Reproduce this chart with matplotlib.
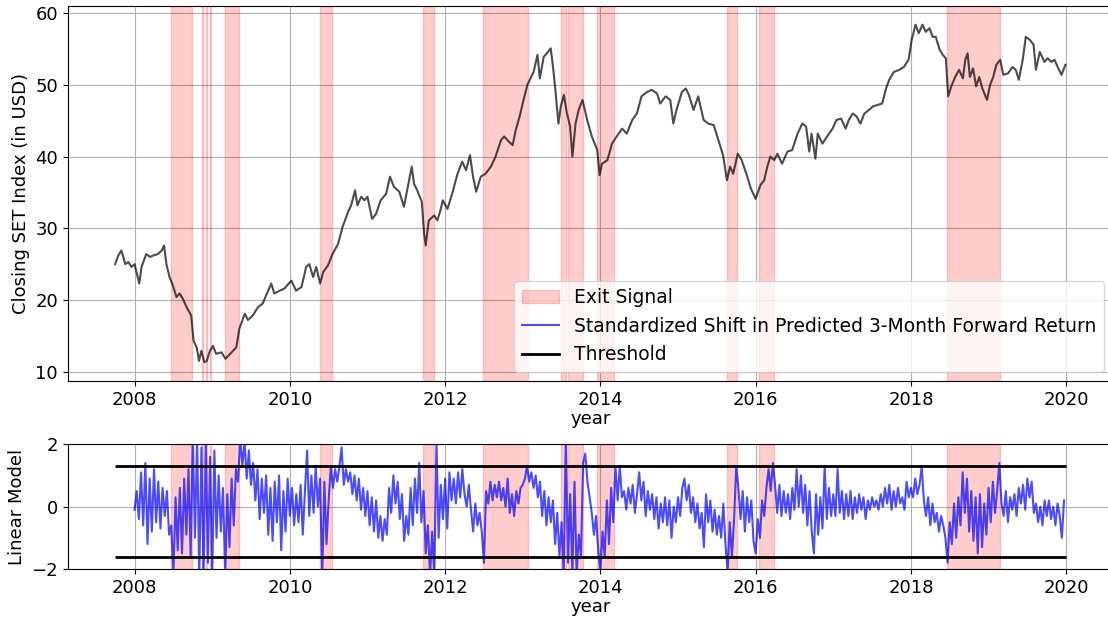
import numpy as np
import matplotlib
matplotlib.use("Agg")
import matplotlib.pyplot as plt
from matplotlib.patches import Patch
from matplotlib.lines import Line2D

plt.rcParams['font.size'] = 13

# Closing SET index (in USD), time in decimal years
price_t = [2007.75, 2007.79, 2007.83, 2007.88, 2007.92, 2007.96, 2008.0, 2008.06, 2008.09, 2008.15,
           2008.2, 2008.24, 2008.3, 2008.35, 2008.38, 2008.41, 2008.45, 2008.5, 2008.54, 2008.58,
           2008.62, 2008.67, 2008.73, 2008.76, 2008.8, 2008.83, 2008.86, 2008.9, 2008.93, 2008.97,
           2009.01, 2009.05, 2009.12, 2009.17, 2009.25, 2009.31, 2009.35, 2009.42, 2009.46, 2009.52,
           2009.59, 2009.65, 2009.72, 2009.76, 2009.8, 2009.87, 2009.93, 2010.02, 2010.08, 2010.15,
           2010.21, 2010.25, 2010.3, 2010.34, 2010.39, 2010.43, 2010.49, 2010.55, 2010.62, 2010.68,
           2010.75, 2010.79, 2010.84, 2010.87, 2010.92, 2010.96, 2011.0, 2011.06, 2011.11, 2011.17,
           2011.24, 2011.29, 2011.34, 2011.41, 2011.47, 2011.52, 2011.57, 2011.6, 2011.64, 2011.7,
           2011.73, 2011.75, 2011.79, 2011.86, 2011.9, 2011.94, 2011.97, 2012.03, 2012.09, 2012.16,
           2012.22, 2012.27, 2012.32, 2012.36, 2012.4, 2012.46, 2012.52, 2012.59, 2012.65, 2012.72,
           2012.76, 2012.82, 2012.87, 2012.91, 2012.96, 2013.01, 2013.06, 2013.1, 2013.14, 2013.19,
           2013.22, 2013.27, 2013.31, 2013.36, 2013.39, 2013.42, 2013.46, 2013.49, 2013.53, 2013.57,
           2013.61, 2013.64, 2013.68, 2013.72, 2013.77, 2013.83, 2013.89, 2013.96, 2013.99, 2014.02,
           2014.09, 2014.15, 2014.21, 2014.28, 2014.34, 2014.41, 2014.47, 2014.53, 2014.6, 2014.66,
           2014.73, 2014.77, 2014.84, 2014.9, 2014.94, 2014.98, 2015.05, 2015.1, 2015.14, 2015.2,
           2015.26, 2015.33, 2015.39, 2015.46, 2015.52, 2015.58, 2015.63, 2015.67, 2015.71, 2015.77,
           2015.82, 2015.88, 2015.94, 2016.0, 2016.06, 2016.11, 2016.15, 2016.19, 2016.24, 2016.28,
           2016.34, 2016.41, 2016.47, 2016.54, 2016.6, 2016.65, 2016.69, 2016.72, 2016.77, 2016.8,
           2016.86, 2016.92, 2016.99, 2017.04, 2017.1, 2017.16, 2017.2, 2017.25, 2017.3, 2017.35,
           2017.4, 2017.46, 2017.51, 2017.57, 2017.63, 2017.68, 2017.72, 2017.78, 2017.85, 2017.91,
           2017.97, 2018.01, 2018.06, 2018.1, 2018.15, 2018.19, 2018.24, 2018.28, 2018.32, 2018.37,
           2018.41, 2018.45, 2018.48, 2018.52, 2018.57, 2018.62, 2018.67, 2018.7, 2018.73, 2018.76,
           2018.8, 2018.84, 2018.88, 2018.92, 2018.98, 2019.02, 2019.06, 2019.1, 2019.15, 2019.19,
           2019.25, 2019.31, 2019.35, 2019.39, 2019.44, 2019.48, 2019.53, 2019.58, 2019.61, 2019.66,
           2019.72, 2019.76, 2019.81, 2019.85, 2019.89, 2019.94, 2019.99]
price_v = [25.0, 26.2, 26.9, 25.0, 25.3, 24.6, 25.0, 22.3, 24.6, 26.4,
           26.0, 26.2, 26.4, 26.9, 27.6, 25.0, 23.2, 21.8, 20.4, 20.9,
           20.2, 19.0, 17.8, 14.3, 13.4, 11.5, 12.9, 11.3, 11.5, 12.9,
           13.6, 12.5, 12.7, 11.8, 12.7, 13.4, 16.0, 18.1, 17.2, 17.8,
           19.0, 19.5, 21.3, 22.3, 20.9, 21.3, 21.6, 22.7, 21.3, 21.8,
           24.6, 25.0, 23.2, 24.6, 22.3, 23.9, 24.8, 26.4, 27.8, 30.2,
           32.3, 33.2, 35.3, 33.2, 34.4, 33.9, 34.4, 31.3, 32.0, 33.9,
           34.8, 37.2, 35.8, 35.1, 33.0, 35.8, 38.6, 36.2, 35.3, 33.7,
           29.2, 27.6, 31.1, 31.8, 31.1, 32.5, 33.9, 32.7, 34.8, 37.6,
           39.3, 38.1, 40.2, 37.2, 35.1, 37.2, 37.6, 38.6, 40.0, 42.3,
           42.8, 42.1, 41.6, 43.7, 45.6, 47.9, 50.0, 50.9, 51.8, 54.2,
           50.9, 53.9, 54.4, 55.1, 52.5, 49.3, 44.6, 47.0, 48.6, 46.0,
           44.2, 40.0, 44.6, 46.5, 47.9, 45.1, 42.8, 40.9, 37.4, 39.0,
           39.5, 41.8, 42.8, 43.9, 43.2, 45.1, 46.0, 48.4, 49.0, 49.3,
           48.8, 47.4, 48.4, 47.9, 44.6, 46.5, 49.0, 49.5, 48.6, 46.5,
           48.4, 45.1, 44.6, 44.4, 42.3, 40.2, 36.7, 38.6, 37.6, 40.4,
           39.5, 37.6, 35.5, 34.1, 36.0, 36.7, 38.6, 40.0, 39.5, 40.4,
           39.0, 40.7, 40.9, 43.2, 44.6, 44.2, 40.7, 43.2, 39.7, 43.2,
           41.8, 42.8, 43.9, 45.1, 45.3, 43.9, 45.1, 46.0, 45.6, 44.6,
           46.0, 46.5, 47.0, 47.2, 47.4, 49.5, 50.7, 51.8, 52.1, 52.5,
           53.5, 56.3, 58.4, 57.2, 58.4, 57.4, 57.9, 56.7, 56.7, 54.9,
           54.2, 53.7, 48.4, 49.8, 51.1, 52.1, 50.9, 53.5, 54.4, 51.1,
           52.3, 49.8, 51.1, 49.5, 47.9, 50.0, 51.1, 52.8, 53.5, 51.4,
           51.6, 52.5, 52.1, 50.7, 53.5, 56.7, 56.3, 55.6, 52.1, 54.6,
           53.2, 53.7, 53.2, 53.5, 52.5, 51.4, 52.8]

# Standardized shift of the linear model, about every 10 days, one list per year
sig_2008 = [-0.1, 0.5, -0.4, 1.1, -0.6, 1.4, -1.2, 0.9, -0.8, 1.2, -0.5, 0.8, -0.7, 0.6, -0.3, 0.5, -0.9, -0.6,
            -2.2, 0.3, -1.4, 0.6, -1.5, 0.9, -0.9, 1.2, -1.6, 2.3, -1.0, 2.2, -2.3, 1.9, -2.3, 2.2, -1.8, 1.6]
sig_2009 = [-2.3, 1.8, -1.0, 1.0, -0.8, 0.6, -2.2, 0.4, -1.3, 0.9, -0.6, 1.2, 0.8, 2.2, 1.3, 2.1, 0.9, 1.8,
            0.7, 1.4, 0.2, 1.2, -0.4, 0.9, -0.2, 1.0, -0.9, 0.6, -1.1, 0.8, -0.5, 1.0, -1.4, 0.5, -0.8, 0.9]
sig_2010 = [-0.3, 0.6, -0.6, 0.4, -0.5, 0.7, -0.9, 0.5, 1.8, -0.3, 1.0, -0.2, 1.3, 0.0, 0.9, -2.3, 0.8, -1.2,
            0.2, 1.3, 0.6, 1.2, 0.8, 1.3, 1.9, 0.7, 1.2, 0.8, 1.1, 0.4, 1.0, 0.2, 0.9, -0.1, 0.6, -0.3]
sig_2011 = [0.5, -0.6, 0.3, -0.8, 0.2, -1.0, -0.3, -1.1, -0.4, -0.9, 0.6, -0.2, 1.0, 0.1, 0.8, -0.4, 0.4, -1.1,
            -0.3, -0.9, 0.6, -0.6, 0.9, -0.2, 1.4, -0.5, 0.5, -1.5, -0.6, -2.2, -0.8, -2.2, 2.1, -1.0, 0.7, -0.4]
sig_2012 = [0.9, -0.7, 1.1, 0.2, 0.9, 0.1, 1.1, 0.3, 1.2, 0.4, 0.0, 0.7, -0.1, -0.8, 0.1, -0.6, -0.2, -0.8,
            -1.8, 0.5, 0.1, 0.8, 0.2, 0.7, 0.3, 0.8, 0.2, 0.6, 0.0, 0.9, -0.2, 0.4, -0.3, 0.5, 0.1, 0.6]
sig_2013 = [0.7, 0.9, 1.3, 0.8, 1.1, 0.6, 1.0, 0.3, 0.8, -0.3, 0.5, -0.6, 0.3, -0.5, 0.2, -1.2, -0.2, -1.6,
            -0.5, -2.2, 2.3, -1.8, 0.4, -2.2, 0.8, -2.2, -0.9, -1.6, 1.4, 1.7, 0.8, 0.3, -0.2, -0.9, -0.3, -1.4]
sig_2014 = [-2.1, -0.8, -1.6, 0.2, -1.2, 0.6, -0.5, 1.3, 0.2, 1.3, 0.3, 0.5, -0.1, 0.6, 0.1, 0.7, -0.2, 0.4,
            1.1, 0.2, 0.8, -0.3, 0.5, -0.1, 0.4, -0.4, 0.3, -0.7, 0.1, -0.5, 0.3, -0.6, 0.2, -1.0, 0.0, -0.5]
sig_2015 = [0.3, -0.3, 0.6, 0.9, 0.2, 0.7, -0.2, 0.3, -0.5, 0.1, -0.7, -0.2, -1.3, 0.4, -0.5, 0.2, -0.8, -0.1,
            -0.9, -0.3, -1.0, 0.1, -1.2, -2.1, -0.5, -1.6, -0.4, 1.3, 0.6, -0.4, 0.5, -0.8, 0.3, -0.5, 0.2, -1.1]
sig_2016 = [-1.5, -0.4, -1.0, 0.2, -0.3, 0.6, 1.2, 0.5, 1.4, 0.7, -0.2, 0.7, -0.3, 0.5, -0.2, 0.4, -0.4, 0.6,
            -0.1, 1.2, 0.0, 1.0, -0.2, 0.7, -0.6, 0.5, -0.8, -1.5, 0.4, -0.9, 0.3, -0.7, 1.3, -0.4, 0.6, -0.3]
sig_2017 = [0.4, -0.3, 1.2, -0.2, 0.5, -0.4, 0.4, -0.3, 0.5, -0.4, 0.3, -0.2, 0.4, -0.1, 0.3, -0.4, 0.2, -0.1,
            0.3, 0.0, 0.2, -0.1, 0.4, 0.0, 0.6, 0.1, 0.7, -0.1, 0.5, 0.0, 0.6, 0.1, 0.3, -0.1, 0.8, 0.3]
sig_2018 = [0.6, 0.3, 0.9, 0.4, 0.7, 1.3, 0.2, -0.3, 0.3, -0.6, 0.1, -0.5, -0.2, -0.8, -0.3, -0.6, -1.0, -1.8,
            -0.5, -1.2, 0.1, -1.0, 0.3, -0.6, 1.1, -0.2, 0.9, -0.8, 0.5, -1.1, 0.3, -1.5, 0.4, -1.3, 0.1, -0.9]
sig_2019 = [0.6, -0.5, 0.8, -0.2, 0.5, 1.4, 0.1, -0.3, 0.5, -0.5, 0.3, -0.1, 0.4, -0.3, 0.6, 0.1, 0.7, -0.1,
            0.9, 0.3, 0.8, -0.2, 0.1, -0.5, 0.0, -0.6, 0.2, -0.3, 0.2, -0.4, 0.0, -0.6, 0.1, -0.3, -1.0, 0.2]

upper_threshold = 1.31
lower_threshold = -1.62

# exit signal periods (decimal years)
exit_start = [2008.475, 2008.865, 2008.915, 2008.975, 2009.16, 2010.39, 2011.72, 2012.49,
              2013.49, 2013.585, 2013.96, 2015.63, 2016.04, 2018.47]
exit_end = [2008.745, 2008.875, 2008.935, 2008.99, 2009.35, 2010.54, 2011.86, 2013.07,
            2013.56, 2013.78, 2014.17, 2015.76, 2016.24, 2019.15]

signal = np.concatenate([sig_2008, sig_2009, sig_2010, sig_2011, sig_2012, sig_2013,
                         sig_2014, sig_2015, sig_2016, sig_2017, sig_2018, sig_2019])
sig_t = 2008 + np.arange(len(signal)) / 36.0

fig = plt.figure(figsize=(11.08, 6.18), dpi=100)
ax1 = fig.add_axes([0.0612, 0.3835, 0.9438, 0.6068])
ax2 = fig.add_axes([0.0612, 0.0793, 0.9438, 0.2018])

for s, e in zip(exit_start, exit_end):
    ax1.axvspan(s, e, color='red', alpha=0.2)
    ax2.axvspan(s, e, color='red', alpha=0.2)

ax1.plot(price_t, price_v, color='black', alpha=0.7, lw=1.5)
ax2.plot(sig_t, signal, color='blue', alpha=0.7, lw=1.5)
ax2.hlines([upper_threshold, lower_threshold], price_t[0], 2020.0, color='black', lw=2)

years = [2008, 2010, 2012, 2014, 2016, 2018, 2020]
for ax in (ax1, ax2):
    ax.set_xlim(2007.14, 2020.61)
    ax.set_xticks(years)
    ax.set_xticklabels([str(y) for y in years])
    ax.grid(True, color='#b0b0b0', lw=0.8)
    ax.set_axisbelow(True)
    ax.set_xlabel("year", labelpad=1)

ax1.set_ylim(8.7, 61.0)
ax1.set_yticks([10, 20, 30, 40, 50, 60])
ax1.set_ylabel("Closing SET Index (in USD)")

ax2.set_ylim(-2, 2)
ax2.set_yticks([-2, 0, 2])
ax2.set_ylabel("Linear Model")

handles = [Patch(facecolor='red', alpha=0.2, edgecolor='red'),
           Line2D([], [], color='blue', alpha=0.7, lw=1.5),
           Line2D([], [], color='black', lw=2)]
labels = ["Exit Signal", "Standardized Shift in Predicted 3-Month Forward Return", "Threshold"]
ax1.legend(handles, labels, loc='lower right', fontsize=13.5)

fig.savefig("out.png", dpi=100)
